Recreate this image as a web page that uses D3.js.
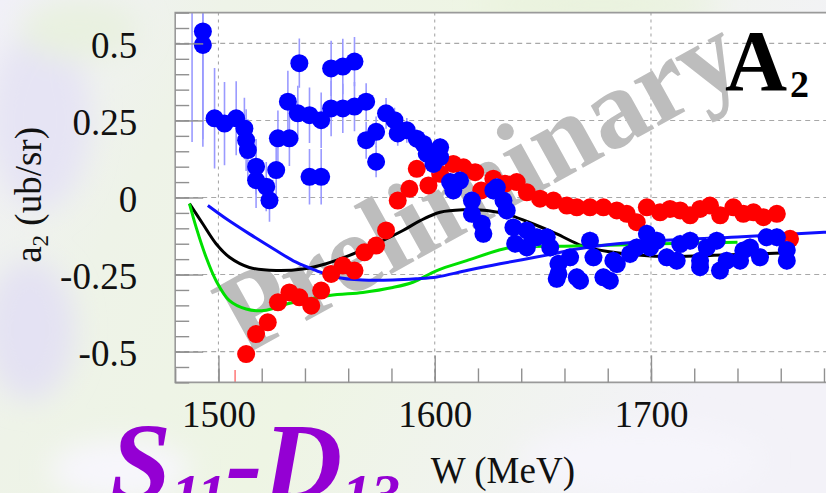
<!DOCTYPE html>
<html>
<head>
<meta charset="utf-8">
<script src="https://cdn.jsdelivr.net/npm/d3@7"></script>
<style>
  html, body { margin: 0; padding: 0; background: #f4f4f4; }
  svg { display: block; }
</style>
</head>
<body>
<script>
// ---- measured asymmetry a2 (ub/sr) vs W (MeV) ----
// blue data set
const blueW   = [1487.8, 1492.8, 1492.8, 1498.2, 1502.8, 1508.2, 1512.0, 1512.8, 1513.6, 1517.4, 1517.4, 1522.1, 1523.6, 1526.7, 1527.5,
                 1532.1, 1532.8, 1536.7, 1537.4, 1542.1, 1542.1, 1547.5, 1547.5, 1552.1, 1552.1, 1557.5, 1557.5, 1562.9, 1562.9,
                 1568.3, 1568.3, 1572.9, 1572.9, 1577.5, 1581.4, 1582.9, 1587.1, 1591.7, 1594.8, 1596.3, 1599.4, 1602.5, 1602.5,
                 1607.1, 1608.6, 1611.7, 1617.2, 1617.2, 1621.8, 1622.5, 1627.1, 1628.7, 1631.8, 1633.3, 1636.4, 1637.2, 1642.6,
                 1642.6, 1647.2, 1651.8, 1653.4, 1656.4, 1657.2, 1657.2, 1662.6, 1665.7, 1667.2, 1671.8, 1673.4, 1678.0, 1681.0,
                 1682.6, 1684.2, 1690.3, 1693.4, 1698.1, 1699.6, 1702.7, 1707.3, 1711.9, 1713.5, 1718.1, 1722.7, 1722.7, 1725.8,
                 1730.4, 1731.9, 1735.0, 1741.2, 1742.7, 1745.8, 1750.4, 1753.5, 1758.2, 1762.8, 1762.8];
const blueA   = [0.72, 0.539, 0.495, 0.257, 0.240, 0.257, 0.224, 0.186, 0.154, 0.100, 0.056, 0.035, -0.009, 0.089, 0.192,
                 0.311, 0.192, 0.273, 0.436, 0.267, 0.067, 0.251, 0.067, 0.289, 0.419, 0.289, 0.425, 0.295, 0.441,
                 0.311, 0.186, 0.213, 0.116, 0.273, 0.251, 0.208, 0.218, 0.191, 0.174, 0.142, 0.109, 0.163, 0.131,
                 0.050, 0.023, 0.055, -0.010, -0.053, -0.085, -0.118, 0.023, 0.033, -0.010, -0.042, -0.097, -0.150, -0.107,
                 -0.162, -0.129, -0.129, -0.162, -0.264, -0.215, -0.248, -0.194, -0.259, -0.270, -0.140, -0.194, -0.259, -0.270,
                 -0.205, -0.216, -0.183, -0.162, -0.118, -0.162, -0.140, -0.194, -0.205, -0.151, -0.140, -0.205, -0.226, -0.162,
                 -0.140, -0.237, -0.205, -0.205, -0.172, -0.162, -0.194, -0.129, -0.129, -0.205, -0.170];
const blueErr = [0.54, 0.35, 0.33, 0.163, 0.135, 0.12, 0.10, 0.10, 0.10, 0.09, 0.09, 0.08, 0.07, 0.08, 0.09,
                 0.10, 0.09, 0.09, 0.08, 0.09, 0.09, 0.09, 0.09, 0.09, 0.09, 0.08, 0.09, 0.08, 0.08,
                 0.06, 0.06, 0.05, 0.05, 0.05, 0.04, 0.04, 0.04, 0.03, 0.03, 0.03, 0.03, 0.03, 0.03,
                 0.03, 0.03, 0.03, 0.03, 0.03, 0.03, 0.03, 0.03, 0.03, 0.03, 0.03, 0.03, 0.03, 0.03,
                 0.03, 0.03, 0.03, 0.03, 0.03, 0.03, 0.03, 0.03, 0.03, 0.03, 0.03, 0.03, 0.03, 0.03,
                 0.03, 0.03, 0.03, 0.03, 0.03, 0.03, 0.03, 0.03, 0.03, 0.03, 0.03, 0.03, 0.03, 0.03,
                 0.03, 0.03, 0.03, 0.03, 0.03, 0.03, 0.03, 0.03, 0.03, 0.03, 0.03];

// red data set
const redW   = [1507.7, 1512.8, 1517.4, 1522.8, 1527.5, 1532.8, 1537.4, 1542.9, 1547.5, 1552.1, 1557.5, 1562.9, 1567.5, 1572.9,
                1577.5, 1582.9, 1588.3, 1591.7, 1597.1, 1602.5, 1608.6, 1613.3, 1618.7, 1621.5, 1627.1, 1632.5, 1637.9, 1642.6,
                1648.7, 1654.9, 1661.1, 1665.7, 1671.8, 1678.0, 1684.2, 1688.8, 1693.4, 1698.1, 1704.2, 1708.8, 1713.5, 1718.1,
                1722.7, 1727.3, 1732.0, 1738.1, 1742.7, 1747.4, 1752.0, 1758.2, 1764.3];
const redA   = [-0.75, -0.508, -0.443, -0.405, -0.340, -0.308, -0.324, -0.351, -0.302, -0.248, -0.221, -0.237, -0.178, -0.156,
                -0.107, -0.010, 0.028, 0.093, 0.039, 0.077, 0.109, 0.098, 0.082, 0.023, 0.061, 0.045, 0.050, 0.017,
                -0.004, -0.010, -0.026, -0.032, -0.032, -0.032, -0.042, -0.053, -0.080, -0.032, -0.048, -0.037, -0.042, -0.058,
                -0.037, -0.026, -0.058, -0.032, -0.053, -0.048, -0.064, -0.053, -0.134];
const redErr = [0.19, 0.02, 0.02, 0.02, 0.02, 0.02, 0.02, 0.02, 0.02, 0.02, 0.02, 0.02, 0.02, 0.02,
                0.02, 0.02, 0.02, 0.02, 0.02, 0.02, 0.02, 0.02, 0.02, 0.02, 0.02, 0.02, 0.02, 0.02,
                0.02, 0.02, 0.02, 0.02, 0.02, 0.02, 0.02, 0.02, 0.02, 0.02, 0.02, 0.02, 0.02, 0.02,
                0.02, 0.02, 0.02, 0.02, 0.02, 0.02, 0.02, 0.02, 0.02];

// model curves
const blackW = [1486.6, 1492.8, 1498.9, 1505.1, 1514.3, 1526.7, 1539.0, 1549.8, 1560.6, 1572.9, 1585.3, 1593.3, 1602.5,
                1613.3, 1624.1, 1634.9, 1645.6, 1656.4, 1668.0, 1680, 1700, 1720, 1740, 1760];
const blackA = [-0.020, -0.086, -0.150, -0.194, -0.227, -0.237, -0.232, -0.215, -0.188, -0.150, -0.107, -0.075, -0.048,
                -0.040, -0.042, -0.058, -0.086, -0.118, -0.156, -0.175, -0.190, -0.190, -0.185, -0.180];
const greenW = [1486.6, 1489.7, 1494.3, 1498.9, 1505.1, 1512.8, 1521.0, 1532.0, 1551.3, 1566.8, 1580.6, 1589.9, 1601.0,
                1614.8, 1631.8, 1640, 1660, 1680, 1700, 1720, 1740];
const greenA = [-0.020, -0.097, -0.194, -0.270, -0.335, -0.362, -0.367, -0.345, -0.318, -0.308, -0.292, -0.275, -0.237,
                -0.205, -0.167, -0.160, -0.158, -0.155, -0.151, -0.148, -0.145];
const bluemW = [1495.1, 1503.6, 1514.3, 1526.7, 1535.9, 1545.2, 1554.4, 1566.8, 1580.6, 1591.4, 1601.0, 1614.8, 1630.2,
                1651.8, 1665, 1680, 1703, 1740, 1780, 1790];
const bluemA = [-0.026, -0.069, -0.118, -0.172, -0.210, -0.237, -0.259, -0.268, -0.268, -0.264, -0.258, -0.237, -0.215,
                -0.187, -0.168, -0.153, -0.140, -0.128, -0.113, -0.110];

// axis ticks
const xMajor = [1500, 1600, 1700];
const xMinor = d3.range(1480, 1800, 20);
const yMajor = [-0.5, -0.25, 0, 0.25, 0.5];
const yMinor = d3.range(-0.6, 0.6001, 0.05).map(v => +v.toFixed(2));

const W = 826, H = 493;
const serif = "'Liberation Serif', 'Times New Roman', Times, serif";

const svg = d3.select("body").append("svg").attr("width", W).attr("height", H);
const defs = svg.append("defs");

// ---- pale backdrop ----
const bg = defs.append("linearGradient").attr("id", "bg").attr("x1", 0).attr("y1", 0).attr("x2", 1).attr("y2", 0.3);
bg.append("stop").attr("offset", 0).attr("stop-color", "#f1f0f8");
bg.append("stop").attr("offset", 0.25).attr("stop-color", "#eef3e8");
bg.append("stop").attr("offset", 0.55).attr("stop-color", "#eef5e4");
bg.append("stop").attr("offset", 1).attr("stop-color", "#f3f2f8");
svg.append("rect").attr("width", W).attr("height", H).attr("fill", "url(#bg)");
defs.append("filter").attr("id", "soft").append("feGaussianBlur").attr("stdDeviation", 14);
const blobs = svg.append("g").attr("filter", "url(#soft)");
[[40, 120, 50, 90, "#e6e4f4"], [30, 330, 45, 70, "#e4e2f3"], [120, 470, 70, 30, "#f7f6fc"],
 [640, 460, 120, 35, "#f6f5fb"], [600, 5, 120, 14, "#e8f2da"], [80, 30, 60, 30, "#e9f1e0"]]
  .forEach(([cx, cy, rx, ry, c]) => blobs.append("ellipse")
    .attr("cx", cx).attr("cy", cy).attr("rx", rx).attr("ry", ry).attr("fill", c));

// ---- scales ----
const x = d3.scaleLinear().domain([1480, 1785]).range([175.2, 834.8]);
const y = d3.scaleLinear().domain([-0.6, 0.6]).range([382.4, 12.6]);
const [x0] = x.range(), [y0, y1] = y.range();

// plot area
svg.append("rect").attr("x", x0).attr("y", y1).attr("width", W - x0 + 10).attr("height", y0 - y1).attr("fill", "#ffffff");
defs.append("clipPath").attr("id", "clip").append("rect")
  .attr("x", x0).attr("y", y1).attr("width", W - x0 + 10).attr("height", y0 - y1);

// grid
const grid = svg.append("g").attr("stroke", "#a8a8a8").attr("stroke-width", 1.1);
grid.selectAll("line.h").data(yMajor).join("line").attr("class", "h")
  .attr("x1", x0).attr("x2", W + 10).attr("y1", d => y(d)).attr("y2", d => y(d))
  .attr("stroke-dasharray", "5,4");
grid.selectAll("line.v").data(xMajor).join("line").attr("class", "v")
  .attr("y1", y1).attr("y2", y0).attr("x1", d => x(d)).attr("x2", d => x(d))
  .attr("stroke-dasharray", "3,4");

// watermark
svg.append("text")
  .attr("transform", "translate(496,216) rotate(-29)")
  .attr("text-anchor", "middle")
  .attr("font-family", serif).attr("font-weight", "bold")
  .attr("font-size", 112).attr("fill", "#bdbdbd")
  .text("Preliminary");

const plot = svg.append("g").attr("clip-path", "url(#clip)");

// model curves
const line = d3.line().x(d => x(d[0])).y(d => y(d[1])).curve(d3.curveCatmullRom.alpha(0.5));
[[blackW, blackA, "#000000"], [greenW, greenA, "#00e000"], [bluemW, bluemA, "#1010ff"]]
  .forEach(([ws, as, c]) => plot.append("path")
    .attr("d", line(ws.map((w, i) => [w, as[i]])))
    .attr("fill", "none").attr("stroke", c).attr("stroke-width", 3));

// data sets: error bars then markers
function drawSet(ws, as, es, color, barColor) {
  const pts = ws.map((w, i) => ({ w, a: as[i], e: es[i] }));
  const g = plot.append("g");
  g.selectAll("line").data(pts).join("line")
    .attr("x1", d => x(d.w)).attr("x2", d => x(d.w))
    .attr("y1", d => y(d.a - d.e)).attr("y2", d => y(d.a + d.e))
    .attr("stroke", barColor).attr("stroke-width", 1.6);
  g.selectAll("circle").data(pts).join("circle")
    .attr("cx", d => x(d.w)).attr("cy", d => y(d.a)).attr("r", 9)
    .attr("fill", color);
}
drawSet(redW, redA, redErr, "#ff0000", "#ff8080");
drawSet(blueW, blueA, blueErr, "#0000ff", "#9a9aff");

// frame
const frame = svg.append("g").attr("stroke", "#9a9a9a").attr("stroke-width", 1.6).attr("fill", "none");
frame.append("path").attr("d", `M${W + 10},${y1}H${x0}V${y0}H${W + 10}`);

// axes (ticks pointing into the plot)
function styleAxis(g) {
  g.attr("font-family", null).attr("font-size", null);
  g.select(".domain").remove();
  g.selectAll(".tick line").attr("stroke", "#909090").attr("stroke-width", 1.4);
  g.selectAll("text").attr("font-family", serif).attr("font-size", 37).attr("fill", "#111");
}
svg.append("g").attr("transform", `translate(${x0},0)`)
  .call(d3.axisLeft(y).tickValues(yMinor).tickSize(-14).tickFormat(""))
  .call(styleAxis);
svg.append("g").attr("transform", `translate(${x0},0)`)
  .call(d3.axisLeft(y).tickValues(yMajor).tickSize(-28).tickPadding(38).tickFormat(d => String(d)))
  .call(styleAxis)
  .call(g => g.selectAll("text").attr("dy", "0.37em"));
svg.append("g").attr("transform", `translate(0,${y0})`)
  .call(d3.axisBottom(x).tickValues(xMinor).tickSize(-14).tickFormat(""))
  .call(styleAxis);
svg.append("g").attr("transform", `translate(0,${y0})`)
  .call(d3.axisBottom(x).tickValues(xMajor).tickSize(-27).tickPadding(18).tickFormat(d3.format("d")))
  .call(styleAxis);

// axis titles
const yt = svg.append("text")
  .attr("transform", "translate(41,127) rotate(-90)")
  .attr("text-anchor", "end")
  .attr("font-family", serif).attr("font-size", 37).attr("fill", "#111");
yt.append("tspan").text("a");
yt.append("tspan").attr("font-size", 23).attr("dy", 7).text("2");
yt.append("tspan").attr("dy", -7).text(" (ub/sr)");

svg.append("text")
  .attr("x", 575).attr("y", 483).attr("text-anchor", "end")
  .attr("font-family", serif).attr("font-size", 37).attr("fill", "#111")
  .text("W (MeV)");

// panel label
const lab = svg.append("text").attr("x", 725).attr("y", 90)
  .attr("font-family", serif).attr("font-weight", "bold").attr("fill", "#000");
lab.append("tspan").attr("font-size", 86).text("A");
lab.append("tspan").attr("font-size", 38).attr("dx", 3).attr("dy", 7).text("2");

// partial-wave tag
const tag = svg.append("text").attr("x", 110).attr("y", 499)
  .attr("font-family", serif).attr("font-weight", "bold").attr("font-style", "italic")
  .attr("fill", "#9400d3");
tag.append("tspan").attr("font-size", 110).text("S");
tag.append("tspan").attr("font-size", 58).attr("dy", 15).text("11");
tag.append("tspan").attr("font-size", 110).attr("dy", -15).text("-");
tag.append("tspan").attr("font-size", 110).text("D");
tag.append("tspan").attr("font-size", 58).attr("dy", 15).text("13");
</script>
</body>
</html>
